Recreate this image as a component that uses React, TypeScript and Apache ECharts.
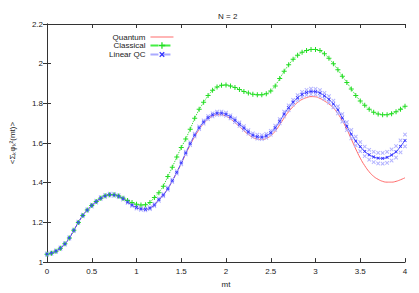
import React, { useEffect, useRef } from "react";
import * as echarts from "echarts";

const times = [
  0, 0.05, 0.1, 0.15, 0.2, 0.25, 0.3, 0.35, 0.4, 0.45,
  0.5, 0.55, 0.6, 0.65, 0.7, 0.75, 0.8, 0.85, 0.9, 0.95,
  1, 1.05, 1.1, 1.15, 1.2, 1.25, 1.3, 1.35, 1.4, 1.45,
  1.5, 1.55, 1.6, 1.65, 1.7, 1.75, 1.8, 1.85, 1.9, 1.95,
  2, 2.05, 2.1, 2.15, 2.2, 2.25, 2.3, 2.35, 2.4, 2.45,
  2.5, 2.55, 2.6, 2.65, 2.7, 2.75, 2.8, 2.85, 2.9, 2.95,
  3, 3.05, 3.1, 3.15, 3.2, 3.25, 3.3, 3.35, 3.4, 3.45,
  3.5, 3.55, 3.6, 3.65, 3.7, 3.75, 3.8, 3.85, 3.9, 3.95,
  4,
];

const quantum = [
  1.04, 1.045, 1.055, 1.07, 1.092, 1.122, 1.16, 1.2, 1.235, 1.262,
  1.285, 1.305, 1.322, 1.334, 1.34, 1.339, 1.332, 1.32, 1.303, 1.287,
  1.275, 1.268, 1.266, 1.272, 1.288, 1.315, 1.338, 1.37, 1.41, 1.452,
  1.497, 1.545, 1.59, 1.632, 1.668, 1.698, 1.72, 1.735, 1.742, 1.742,
  1.735, 1.722, 1.703, 1.683, 1.662, 1.643, 1.628, 1.62, 1.618, 1.623,
  1.637, 1.66, 1.692, 1.727, 1.758, 1.784, 1.805, 1.82, 1.829, 1.834,
  1.833, 1.825, 1.812, 1.797, 1.777, 1.748, 1.712, 1.67, 1.62, 1.57,
  1.524, 1.486, 1.455, 1.432, 1.417, 1.407, 1.403, 1.403, 1.407, 1.415,
  1.425,
];

const classical = [
  1.04, 1.045, 1.055, 1.07, 1.092, 1.122, 1.16, 1.2, 1.235, 1.262,
  1.285, 1.305, 1.322, 1.334, 1.34, 1.339, 1.333, 1.322, 1.31, 1.3,
  1.292, 1.288, 1.289, 1.3, 1.326, 1.35, 1.382, 1.432, 1.478, 1.53,
  1.578, 1.62, 1.67, 1.725, 1.77, 1.805, 1.84, 1.866, 1.882, 1.891,
  1.893, 1.888, 1.88, 1.87, 1.86, 1.852, 1.846, 1.843, 1.843, 1.848,
  1.862, 1.888, 1.925, 1.962, 1.995, 2.022, 2.043, 2.058, 2.067, 2.072,
  2.072, 2.066, 2.05, 2.028, 2.0, 1.97, 1.937, 1.905, 1.872, 1.84,
  1.812, 1.79, 1.77, 1.755, 1.746, 1.742, 1.743, 1.748, 1.758, 1.77,
  1.785,
];

const linearQC = [
  1.04, 1.045, 1.055, 1.07, 1.092, 1.122, 1.16, 1.2, 1.235, 1.262,
  1.285, 1.305, 1.322, 1.334, 1.34, 1.339, 1.332, 1.32, 1.303, 1.287,
  1.275, 1.268, 1.266, 1.272, 1.288, 1.315, 1.338, 1.37, 1.41, 1.452,
  1.5, 1.55, 1.597, 1.64, 1.677, 1.706, 1.728, 1.742, 1.75, 1.751,
  1.745, 1.732, 1.715, 1.695, 1.676, 1.656, 1.64, 1.632, 1.63, 1.636,
  1.652, 1.677, 1.71, 1.746, 1.778, 1.806, 1.828, 1.845, 1.855, 1.86,
  1.859, 1.852, 1.838, 1.82, 1.797, 1.767, 1.727, 1.685, 1.645, 1.61,
  1.582, 1.558, 1.541, 1.53, 1.524, 1.523, 1.528, 1.54, 1.556, 1.583,
  1.613,
];

// half-width of the light blue spread around Linear QC
const qcSpread = [
  0.004, 0.004, 0.004, 0.004, 0.004, 0.004, 0.004, 0.004, 0.004, 0.004,
  0.005, 0.005, 0.005, 0.005, 0.005, 0.005, 0.005, 0.005, 0.005, 0.005,
  0.005, 0.005, 0.005, 0.005, 0.006, 0.006, 0.006, 0.006, 0.006, 0.006,
  0.007, 0.007, 0.007, 0.007, 0.007, 0.008, 0.008, 0.008, 0.008, 0.008,
  0.008, 0.008, 0.009, 0.009, 0.009, 0.009, 0.009, 0.01, 0.01, 0.01,
  0.01, 0.011, 0.011, 0.012, 0.012, 0.012, 0.013, 0.013, 0.013, 0.014,
  0.014, 0.015, 0.015, 0.016, 0.017, 0.018, 0.019, 0.02, 0.021, 0.022,
  0.023, 0.024, 0.025, 0.026, 0.027, 0.027, 0.028, 0.028, 0.029, 0.03,
  0.03,
];

const yTicks = [1, 1.2, 1.4, 1.6, 1.8, 2, 2.2];
const xTicks = [0, 0.5, 1, 1.5, 2, 2.5, 3, 3.5, 4];

const PLUS = "path://M4,0H6V4H10V6H6V10H4V6H0V4H4Z";
const HLINE = "path://M0,0H23V1H0Z";
const FONT = "Liberation Sans";

export default function App() {
  const ref = useRef<HTMLDivElement>(null);
  useEffect(() => {
    if (!ref.current) return;
    const chart = echarts.init(ref.current, null, { renderer: "svg" });
    const pairs = (vals: number[]) => vals.map((v, i) => [times[i], v]);
    const upper = linearQC.map((v, i) => [times[i], v + qcSpread[i]]);
    const lower = linearQC.map((v, i) => [times[i], v - qcSpread[i]]);
    const axisLine = { show: true, lineStyle: { color: "#333", width: 1 } };
    const axisTick = { show: true, inside: true, length: 4, lineStyle: { color: "#333" } };
    const label = { color: "#222", fontSize: 8, fontFamily: FONT };
    chart.setOption({
      animation: false,
      backgroundColor: "#fff",
      textStyle: { fontFamily: FONT },
      title: {
        text: "N = 2",
        left: 213,
        top: 7,
        textStyle: { fontSize: 8, fontWeight: "normal", color: "#222", fontFamily: FONT },
      },
      legend: {
        data: [
          { name: "Quantum", icon: HLINE },
          { name: "Classical", lineStyle: { type: "dashed", color: "#44ee44" } },
          { name: "Linear QC", lineStyle: { type: "dashed", color: "#aaaaff" } },
        ],
        orient: "vertical",
        align: "right",
        padding: 0,
        left: 109,
        top: 33,
        itemWidth: 23,
        itemHeight: 8,
        itemGap: 0.5,
        textStyle: { fontSize: 8, color: "#222", fontFamily: FONT, padding: 0 },
      },
      grid: { left: 41, right: 14, top: 24, bottom: 25, containLabel: false },
      xAxis: [
        {
          type: "value",
          min: xTicks[0],
          max: xTicks[xTicks.length - 1],
          interval: 0.5,
          name: "mt",
          nameLocation: "middle",
          nameGap: 15,
          nameTextStyle: { fontSize: 8, color: "#222", fontFamily: FONT },
          axisLine,
          axisTick,
          axisLabel: { ...label, margin: 5 },
          splitLine: { show: false },
        },
        {
          type: "value",
          position: "top",
          min: 0,
          max: 4,
          interval: 0.5,
          axisLine,
          axisTick,
          axisLabel: { show: false },
          splitLine: { show: false },
        },
      ],
      yAxis: [
        {
          type: "value",
          min: yTicks[0],
          max: yTicks[yTicks.length - 1],
          interval: 0.2,
          name: "<Σₖφₖ²(mt)>",
          nameLocation: "middle",
          nameRotate: 90,
          nameGap: 31,
          nameTextStyle: { fontSize: 8, color: "#222", fontFamily: FONT },
          axisLine,
          axisTick,
          axisLabel: { ...label, margin: 4 },
          splitLine: { show: false },
        },
        {
          type: "value",
          position: "right",
          min: 1,
          max: 2.2,
          interval: 0.2,
          axisLine,
          axisTick,
          axisLabel: { show: false },
          splitLine: { show: false },
        },
      ],
      series: [
        {
          name: "Linear QC band upper",
          type: "line",
          data: upper,
          symbol: PLUS,
          symbolRotate: 45,
          symbolSize: 5,
          lineStyle: { width: 0, opacity: 0 },
          itemStyle: { color: "#b4b4ff" },
          silent: true,
        },
        {
          name: "Linear QC band lower",
          type: "line",
          data: lower,
          symbol: PLUS,
          symbolRotate: 45,
          symbolSize: 5,
          lineStyle: { width: 0, opacity: 0 },
          itemStyle: { color: "#b4b4ff" },
          silent: true,
        },
        {
          name: "Quantum",
          type: "line",
          data: pairs(quantum),
          smooth: true,
          symbol: "none",
          lineStyle: { color: "#ff6a6a", width: 1 },
          itemStyle: { color: "#ff6a6a" },
        },
        {
          name: "Classical",
          type: "line",
          data: pairs(classical),
          symbol: PLUS,
          symbolSize: 5,
          lineStyle: { color: "#22dd22", width: 1, type: "dotted" },
          itemStyle: { color: "#22dd22" },
        },
        {
          name: "Linear QC",
          type: "line",
          data: pairs(linearQC),
          smooth: true,
          symbol: PLUS,
          symbolRotate: 45,
          symbolSize: 4,
          lineStyle: { color: "#4040ff", width: 1 },
          itemStyle: { color: "#3434ff" },
        },
      ],
    });
    return () => chart.dispose();
  }, []);
  return (
    <div
      ref={ref}
      style={{ position: "fixed", left: 0, top: 0, width: 419, height: 293 }}
    />
  );
}
